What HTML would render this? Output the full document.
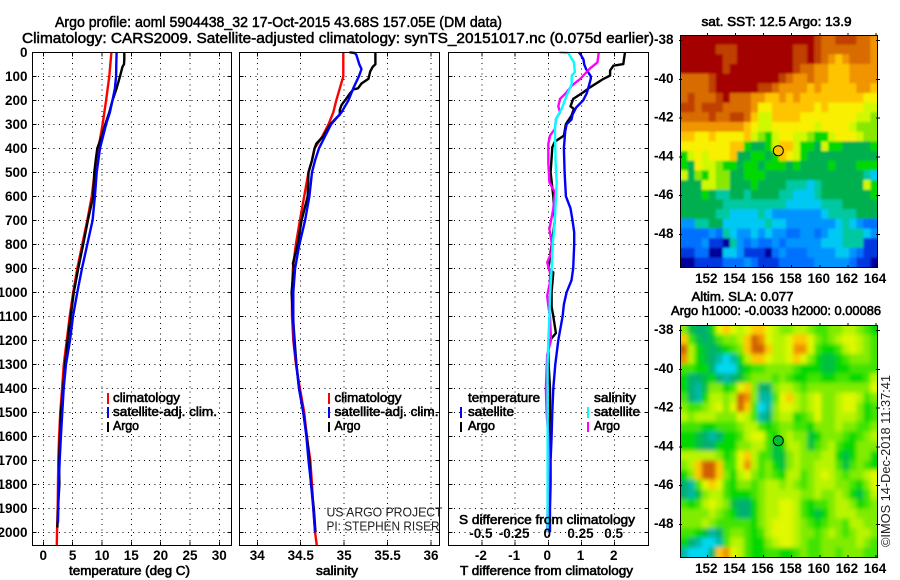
<!DOCTYPE html>
<html lang="en">
<head>
<meta charset="utf-8">
<title>Argo profile 5904438_32</title>
<style>
html,body{margin:0;padding:0;background:#fff;width:900px;height:580px;overflow:hidden}
svg{display:block}
text{font-family:"Liberation Sans",sans-serif;fill:#000}
.t{font-size:15px;stroke:#000;stroke-width:.5px}
.b{font-size:13.5px;font-weight:bold}
.l{font-size:13px;stroke:#000;stroke-width:.6px}
.thin{font-size:13px;fill:#222}
.frame{fill:none;stroke:#000;stroke-width:1;shape-rendering:crispEdges}
</style>
</head>
<body>
<svg id="chart" xmlns="http://www.w3.org/2000/svg" width="900" height="580" viewBox="0 0 900 580">
  <defs>
    <filter id="blurSst" x="-5%" y="-5%" width="110%" height="110%"><feGaussianBlur stdDeviation="1.1"/></filter>
    <filter id="blurSla" x="-5%" y="-5%" width="110%" height="110%"><feGaussianBlur stdDeviation="2.2"/></filter>
    <clipPath id="clipSst"><rect x="680.5" y="35.5" width="197" height="232"/></clipPath>
    <clipPath id="clipSla"><rect x="680.5" y="325.5" width="197" height="232"/></clipPath>
  </defs>
  <rect x="0" y="0" width="900" height="580" fill="#fff"/>
  <g id="grids"></g>
  <g id="maps"></g>
  <g id="series"></g>
  <rect class="frame" x="32.5" y="52.5" width="199" height="493"/>
  <rect class="frame" x="239.5" y="52.5" width="200" height="493"/>
  <rect class="frame" x="448.5" y="52.5" width="200" height="493"/>
  <g id="labels"></g>

  <text class="t" x="55" y="27" textLength="447" lengthAdjust="spacingAndGlyphs">Argo profile: aoml 5904438_32 17-Oct-2015 43.68S 157.05E (DM data)</text>
  <text class="t" x="22" y="43" textLength="632" lengthAdjust="spacingAndGlyphs">Climatology: CARS2009. Satellite-adjusted climatology: synTS_20151017.nc (0.075d earlier)</text>

  <text class="l" x="69" y="575" textLength="121" lengthAdjust="spacingAndGlyphs">temperature (deg C)</text>
  <text class="l" x="316" y="575" textLength="42" lengthAdjust="spacingAndGlyphs">salinity</text>
  <text class="l" x="460" y="575" textLength="173" lengthAdjust="spacingAndGlyphs">T difference from climatology</text>
  <text class="l" x="459" y="524" textLength="176" lengthAdjust="spacingAndGlyphs">S difference from climatology</text>

  <g>
    <rect x="107" y="393" width="2" height="11" fill="#f00"/>
    <rect x="107" y="407" width="2" height="11" fill="#00f"/>
    <rect x="107" y="422" width="2" height="10" fill="#000"/>
    <text class="l" x="113" y="402" textLength="67" lengthAdjust="spacingAndGlyphs">climatology</text>
    <text class="l" x="113" y="416" textLength="104" lengthAdjust="spacingAndGlyphs">satellite-adj. clim.</text>
    <text class="l" x="113" y="430" textLength="26" lengthAdjust="spacingAndGlyphs">Argo</text>
  </g>
  <g>
    <rect x="328" y="393" width="2" height="11" fill="#f00"/>
    <rect x="328" y="407" width="2" height="11" fill="#00f"/>
    <rect x="328" y="422" width="2" height="10" fill="#000"/>
    <text class="l" x="334.5" y="402" textLength="67" lengthAdjust="spacingAndGlyphs">climatology</text>
    <text class="l" x="334.5" y="416" textLength="104" lengthAdjust="spacingAndGlyphs">satellite-adj. clim.</text>
    <text class="l" x="334.5" y="430" textLength="26" lengthAdjust="spacingAndGlyphs">Argo</text>
  </g>
  <g>
    <text class="l" x="468" y="402" textLength="72" lengthAdjust="spacingAndGlyphs">temperature</text>
    <rect x="460" y="407" width="2" height="11" fill="#00f"/>
    <rect x="460" y="422" width="2" height="10" fill="#000"/>
    <text class="l" x="468" y="416" textLength="46" lengthAdjust="spacingAndGlyphs">satellite</text>
    <text class="l" x="468" y="430" textLength="27" lengthAdjust="spacingAndGlyphs">Argo</text>
    <text class="l" x="594" y="402" textLength="42" lengthAdjust="spacingAndGlyphs">salinity</text>
    <rect x="587" y="407" width="2" height="11" fill="#0ff"/>
    <rect x="587" y="422" width="2" height="10" fill="#f0f"/>
    <text class="l" x="594" y="416" textLength="46" lengthAdjust="spacingAndGlyphs">satellite</text>
    <text class="l" x="594" y="430" textLength="26" lengthAdjust="spacingAndGlyphs">Argo</text>
  </g>

  <text class="thin" x="326.5" y="516.5" textLength="116" lengthAdjust="spacingAndGlyphs">US ARGO PROJECT</text>
  <text class="thin" x="326.5" y="530.5" textLength="113" lengthAdjust="spacingAndGlyphs">PI: STEPHEN RISER</text>

  <text class="l" x="701.5" y="26" textLength="150" lengthAdjust="spacingAndGlyphs">sat. SST: 12.5 Argo: 13.9</text>
  <text class="l" x="691.5" y="301" textLength="102" lengthAdjust="spacingAndGlyphs">Altim. SLA: 0.077</text>
  <text class="l" x="671" y="315" textLength="210" lengthAdjust="spacingAndGlyphs">Argo h1000: -0.0033 h2000: 0.00086</text>
  <text class="thin" transform="translate(890 547) rotate(-90)" x="0" y="0" textLength="172" lengthAdjust="spacingAndGlyphs">©IMOS 14-Dec-2018 11:37:41</text>
</svg>

<script>
/* ---------- shared tick arrays ---------- */
const depthTicks = [0,100,200,300,400,500,600,700,800,900,1000,1100,1200,1300,1400,1500,1600,1700,1800,1900,2000];
const tempTicks = [0,5,10,15,20,25,30];
const salTicks = [34,34.5,35,35.5,36];
const salTickLabels = ['34','34.5','35','35.5','36'];
const tDiffTicks = [-2,-1,0,1,2];
const sDiffTicks = [-0.5,-0.25,0,0.25,0.5];
const sDiffTickLabels = ['-0.5','-0.25','0','0.25','0.5'];
const lonTicks = [152,154,156,158,160,162,164];
const latTicks = [-38,-40,-42,-44,-46,-48];

/* ---------- temperature profiles ---------- */
const tClimDepth = [0,100,200,300,400,500,600,700,800,900,1000,1100,1200,1300,1400,1500,1600,1700,1800,1900,2000,2054];
const tClimValues = [11.6,11.25,10.7,10.1,9.4,8.76,8.25,7.5,6.65,5.8,5.1,4.5,4.0,3.5,3.2,2.9,2.7,2.55,2.5,2.45,2.33,2.3];
const tSatDepth = [0,50,100,150,200,250,300,400,500,600,700,800,900,1000,1100,1200,1300,1400,1500,1600,1700,1800,1900,1960];
const tSatValues = [12.5,12.45,12.4,12.2,11.8,11.35,10.7,9.67,9.1,8.8,8.4,7.5,6.6,5.8,5.06,4.55,3.87,3.47,3.24,3.0,2.8,2.6,2.55,2.5];
const tArgoDepth = [0,30,50,60,100,150,200,250,300,350,400,450,500,600,700,800,900,1000,1100,1200,1300,1400,1500,1600,1700,1800,1900,1980];
const tArgoValues = [13.8,13.8,13.75,13.5,13.07,12.5,11.8,11.25,10.57,9.95,9.2,8.93,8.7,8.5,7.6,6.8,5.97,5.2,4.67,4.15,3.7,3.4,3.0,2.85,2.7,2.75,2.5,2.4];

/* ---------- salinity profiles ---------- */
const sClimDepth = [0,100,150,200,250,300,350,400,450,500,600,700,800,900,1000,1100,1200,1300,1400,1500,1600,1700,1800,1900,2000,2054];
const sClimValues = [34.99,34.99,34.95,34.91,34.875,34.82,34.75,34.66,34.63,34.59,34.54,34.49,34.445,34.41,34.40,34.40,34.415,34.445,34.49,34.54,34.57,34.61,34.63,34.645,34.665,34.685];
const sSatDepth = [0,3,10,50,70,100,150,200,250,300,350,400,450,500,600,700,800,900,1000,1100,1200,1300,1400,1500,1600,1700,1800,1900,2000];
const sSatValues = [35.06,35.12,35.14,35.175,35.2,35.17,35.105,35.05,34.97,34.85,34.78,34.71,34.665,34.63,34.6,34.55,34.485,34.435,34.415,34.415,34.42,34.45,34.48,34.53,34.565,34.59,34.62,34.645,34.665];
const sArgoDepth = [0,50,60,80,110,130,150,155,170,190,220,240,260,270,300,350,380,400,450,500,600,700,800,880,900,1000,1100,1200,1300,1400,1500,1600,1700,1800,1900,2000];
const sArgoValues = [35.36,35.36,35.33,35.3,35.28,35.2,35.16,35.105,35.07,35.03,34.97,34.95,34.95,34.92,34.84,34.76,34.68,34.66,34.63,34.59,34.58,34.51,34.465,34.41,34.42,34.395,34.41,34.43,34.45,34.48,34.53,34.57,34.60,34.62,34.65,34.67];

/* ---------- difference profiles ---------- */
const dtSatDepth = [0,10,30,50,70,100,110,130,170,200,230,260,280,300,330,400,500,600,650,700,750,800,900,950,1000,1050,1100,1200,1300,1400,1500,1600,1700,1800,1900,2000];
const dtSatValues = [0.92,0.975,1.06,1.08,1.14,1.28,1.28,1.24,1.16,1.05,0.84,0.73,0.70,0.55,0.51,0.47,0.49,0.53,0.67,0.73,0.78,0.78,0.75,0.70,0.55,0.47,0.43,0.30,0.21,0.15,0.12,0.10,0.07,0.07,0.05,0.05];
const dtArgoDepth = [0,28,49,56,76,97,111,146,167,194,225,236,264,299,347,372,396,458,500,600,700,800,875,900,917,1000,1060,1100,1170,1200,1225,1300,1400,1500,1600,1700,2000];
const dtArgoValues = [2.31,2.28,2.26,1.96,1.86,1.86,1.66,1.26,1.05,0.75,0.67,0.77,0.70,0.53,0.47,0.2,0.12,0.09,0.07,0.15,0.2,0.1,0.03,0,0.15,0.1,0.1,0.15,0.23,0.05,0,0.01,0.05,0.05,0.03,0.02,0.02];
const dsArgoDepth = [0,42,67,76,111,139,167,181,194,225,250,278,319,347,382,458,542,583,653,736,792,833,875,917,958,1014,1056,1100,1200,1260,1400,1500,1600,1700,1800,1900,2000];
const dsArgoValues = [0.38,0.37,0.314,0.30,0.24,0.176,0.138,0.113,0.088,0.075,0.088,0.058,0.05,0.013,0,0,0.008,0.05,0.038,0.008,0.025,0.025,-0.008,0.013,0.013,-0.008,0,0.013,0.02,-0.008,-0.018,-0.013,0,0.005,0,-0.005,-0.008];
const dsSatDepth = [0,3,42,83,97,132,181,236,278,319,458,542,694,806,903,1014,1100,1200,1300,2000];
const dsSatValues = [0.083,0.15,0.193,0.2,0.176,0.176,0.138,0.1,0.058,0.05,0.055,0.063,0.05,0.033,0.025,0.013,0.008,0,-0.005,-0.005];

/* ---------- map colour levels (0.5 degree cells, north to south) ---------- */
const sstLevels = [
[15,15,15,15,15,15,15,15,15,15,15,15,15,15,15,15,15,15,15,14,13,13,14,14,14,13,13,12],
[15,15,15,15,15,14,14,14,15,15,15,15,15,15,15,15,14,14,15,14,13,13,13,13,13,13,13,12],
[15,15,15,15,15,15,14,14,15,15,15,15,15,15,15,15,14,14,15,14,13,12,11,12,13,13,13,12],
[15,15,15,15,15,15,14,15,15,15,15,15,15,15,15,15,14,13,13,12,12,11,11,11,12,12,12,12],
[13,13,13,13,14,15,15,15,15,15,15,15,15,15,14,13,12,12,13,12,12,11,11,11,12,12,12,12],
[13,13,13,13,14,15,15,15,15,15,15,14,14,13,12,12,12,12,11,12,11,11,11,11,11,12,12,11],
[13,14,13,13,13,14,15,13,13,13,12,12,11,11,12,11,12,11,11,11,11,11,11,11,11,11,10,10],
[14,14,13,14,14,14,13,13,13,13,12,10,10,11,11,11,11,11,11,10,11,10,10,10,10,10,9,9],
[13,13,13,13,14,13,13,14,14,13,11,9,9,11,11,11,11,10,10,10,10,10,10,10,10,9,9,8],
[12,12,12,12,12,12,12,12,12,11,10,9,9,10,10,10,10,10,10,9,10,10,10,10,9,8,8,8],
[11,11,10,10,11,10,10,10,10,11,9,8,7,9,10,10,9,9,8,7,7,9,10,10,10,9,8,8],
[10,10,10,10,10,10,10,11,11,7,6,6,7,9,11,11,9,7,7,6,9,7,7,6,6,6,6,7],
[7,9,10,9,10,10,10,11,6,6,7,7,6,7,11,10,9,7,6,6,6,6,6,6,6,6,6,6],
[7,6,10,9,9,8,7,7,6,7,7,6,7,7,7,6,7,6,6,6,6,7,6,6,6,7,7,7],
[9,6,8,7,9,8,8,6,6,7,7,7,6,6,6,6,6,6,6,6,6,6,6,6,6,6,5,4],
[6,6,6,9,9,8,8,6,6,6,7,6,6,6,6,5,5,5,4,5,6,6,6,6,6,6,9,7],
[6,6,6,7,6,5,5,6,6,5,6,6,6,6,5,5,4,4,4,5,6,6,6,6,6,6,6,7],
[6,6,6,6,6,6,5,5,5,5,5,5,5,5,5,4,4,4,4,4,5,5,5,6,6,6,6,6],
[6,6,6,6,6,5,5,4,4,4,4,5,4,3,3,3,3,3,3,3,4,5,5,5,5,6,6,6],
[3,3,5,5,6,6,4,4,4,4,4,4,5,4,4,3,3,3,3,3,3,3,4,5,4,3,2,2],
[2,2,2,2,3,2,5,4,3,3,4,3,4,3,3,2,2,3,3,2,3,4,4,5,5,5,4,3],
[2,2,2,3,1,1,0,5,3,2,3,2,2,3,2,3,3,3,3,3,4,4,4,5,5,5,1,1],
[1,1,2,2,0,0,4,4,3,1,1,1,0,2,3,2,2,2,3,3,3,3,4,4,3,2,1,1],
[0,0,1,1,1,1,2,2,2,3,2,1,1,1,2,2,2,2,2,3,3,3,3,3,2,1,1,0]
];
const slaLevels = [
[6,3,2,2,4,8,9,8,7,8,9,9,8,7,6,6,7,7,6,5,5,6,6,7,7,6,5,4],
[9,5,3,2,3,5,6,6,7,9,11,10,8,7,7,8,9,9,8,6,5,6,7,8,8,7,6,5],
[11,7,4,3,2,3,4,5,6,9,11,11,9,7,7,8,10,10,8,5,4,4,5,7,8,7,6,5],
[10,7,4,3,2,1,0,1,4,7,9,9,8,7,7,8,9,8,6,4,3,3,4,5,6,6,6,5],
[5,5,4,4,2,0,0,0,3,4,5,5,6,6,6,6,5,4,4,4,3,3,4,4,5,5,5,5],
[4,2,2,3,4,2,1,2,3,5,6,6,6,5,6,5,4,4,5,5,4,4,5,5,4,4,5,7],
[4,2,1,3,6,6,4,5,8,9,6,2,2,6,7,7,6,5,6,6,6,6,6,6,6,6,6,8],
[5,2,1,4,7,7,6,7,11,10,6,1,1,5,8,9,7,6,7,8,6,6,7,8,8,7,5,6],
[6,5,5,6,7,8,6,8,11,9,5,0,1,6,8,8,7,6,7,8,6,6,7,8,8,6,4,5],
[7,6,7,7,7,6,6,6,8,7,5,1,2,6,7,7,4,5,6,8,6,6,7,7,7,6,4,5],
[5,5,5,4,4,5,5,5,6,7,7,5,4,5,6,6,5,5,4,6,6,6,7,6,6,5,5,6],
[4,4,3,2,1,2,4,4,5,7,8,8,5,4,6,7,6,6,3,4,6,6,6,5,4,5,6,7],
[4,4,3,2,2,4,4,4,6,6,7,7,5,3,4,7,7,6,3,5,6,7,5,4,4,6,6,6],
[7,7,7,7,7,6,4,5,8,9,7,5,5,3,3,6,7,6,6,6,7,7,4,3,4,6,6,4],
[6,7,9,11,11,9,5,5,8,10,7,5,6,4,3,6,7,6,6,7,7,7,5,3,5,6,5,4],
[4,6,9,11,11,9,6,4,7,8,6,5,6,5,4,7,7,5,6,7,8,7,6,5,6,6,7,8],
[2,1,5,8,9,8,5,4,6,6,5,6,7,7,6,7,6,5,6,7,7,7,6,6,5,4,6,8],
[2,1,3,6,7,7,5,4,4,4,5,6,7,7,7,7,7,6,6,7,6,6,7,6,4,3,5,7],
[5,4,5,7,8,7,6,3,2,2,4,6,7,7,8,8,7,5,4,5,5,6,7,7,6,4,5,6],
[6,6,6,6,7,6,5,4,2,2,4,6,7,7,8,8,7,5,4,3,4,6,7,7,7,6,6,6],
[6,6,6,7,6,5,5,5,5,5,4,6,7,8,8,8,7,6,5,4,5,6,6,5,7,7,6,6],
[5,5,4,3,1,2,5,6,6,5,4,5,7,8,8,8,7,6,6,5,6,7,6,5,6,7,7,6],
[4,2,1,0,0,1,5,7,7,5,4,4,6,7,8,8,7,6,5,5,6,6,6,6,6,7,6,5],
[1,0,0,0,2,9,10,8,7,5,4,4,5,5,4,4,5,6,5,5,6,6,5,6,6,6,5,5]
];
const sstColours = ['#00009c','#0038e0','#0070ff','#0094ff','#00c8f4','#00c8a0','#00b050','#00d800','#88e800','#d0f800','#f8f000','#ffc400','#f09400','#d86c00','#c04000','#a40000'];
const slaColours = ['#00d8f0','#00b8a8','#00b070','#00c040','#00d800','#40e400','#80ec00','#b8f400','#e0f800','#ffc800','#f09000','#d06000'];
const profileLat = -43.68;
const profileLon = 157.05;

/* ---------- axis functions ---------- */
const NS = 'http://www.w3.org/2000/svg';
function yDepth(d){ return 52.3 + d * 0.24; }
function xTemp(t){ return 43.3 + t * 5.867; }
function xSal(s){ return 257.3 + (s - 34) * 86.85; }
function xDT(t){ return 548.3 + t * 33.2; }
function xDS(s){ return 548.3 + s * 132.8; }
function xLon(lon){ return 707.3 + (lon - 152) * 14.06; }
function yLat(lat, top){ return top + 5.7 + (-38 - lat) * 19.36; }
function make(tag, attrs, parent){
  const el = document.createElementNS(NS, tag);
  for (const k in attrs) el.setAttribute(k, attrs[k]);
  parent.appendChild(el);
  return el;
}

const grids = document.getElementById('grids');
const labels = document.getElementById('labels');
const seriesGroup = document.getElementById('series');
const maps = document.getElementById('maps');
const panels = [
  {x0:32.5, x1:231.5, xf:xTemp, ticks:tempTicks},
  {x0:239.5, x1:439.5, xf:xSal, ticks:salTicks},
  {x0:448.5, x1:648.5, xf:xDT, ticks:tDiffTicks}
];
const dotted = {stroke:'#000','stroke-width':1,'stroke-dasharray':'1 4.3','shape-rendering':'crispEdges'};
const solid = {stroke:'#000','stroke-width':1,'shape-rendering':'crispEdges'};

/* grid lines with solid tick stubs at the frame */
panels.forEach(function(p){
  depthTicks.forEach(function(d){
    const line = make('line', Object.assign({x1:p.x0, x2:p.x1, y1:yDepth(d), y2:yDepth(d)}, dotted), grids);
    
    
    const stubL = make('line', Object.assign({x1:p.x0, x2:p.x0 + 4, y1:yDepth(d), y2:yDepth(d)}, solid), grids);
    
    
    const stubR = make('line', Object.assign({x1:p.x1 - 4, x2:p.x1, y1:yDepth(d), y2:yDepth(d)}, solid), grids);
    
    
  });
  p.ticks.forEach(function(v){
    const line = make('line', Object.assign({x1:p.xf(v), x2:p.xf(v), y1:52.5, y2:545.5}, dotted), grids);
    
    
    const stubT = make('line', Object.assign({x1:p.xf(v), x2:p.xf(v), y1:52.5, y2:56.5}, solid), grids);
    
    
    const stubB = make('line', Object.assign({x1:p.xf(v), x2:p.xf(v), y1:541.5, y2:545.5}, solid), grids);
    
    
  });
});

/* axis labels */
depthTicks.forEach(function(d){
  const t = make('text', {x:27.5, y:yDepth(d)+4.5, 'text-anchor':'end', 'class':'b'}, labels);
  t.textContent = String(d);
  
  
});
tempTicks.forEach(function(v){
  const t = make('text', {x:xTemp(v), y:560, 'text-anchor':'middle', 'class':'b'}, labels);
  t.textContent = String(v);
  
  
});
salTicks.forEach(function(v, i){
  const t = make('text', {x:xSal(v), y:560, 'text-anchor':'middle', 'class':'b'}, labels);
  t.textContent = salTickLabels[i];
  
  
});
tDiffTicks.forEach(function(v){
  const t = make('text', {x:xDT(v)-1, y:560, 'text-anchor':'middle', 'class':'b'}, labels);
  t.textContent = String(v);
  
  
});
sDiffTicks.forEach(function(v, i){
  const t = make('text', {x:xDS(v)-1, y:538, 'text-anchor':'middle', 'class':'b'}, labels);
  t.textContent = sDiffTickLabels[i];
  
  
});

/* profile lines */
function drawLine(depths, values, xf, colour, width){
  const pts = depths.map(function(d, i){ return xf(values[i]).toFixed(1) + ',' + yDepth(d).toFixed(1); }).join(' ');
  return make('polyline', {points:pts, fill:'none', stroke:colour, 'stroke-width':width, 'stroke-linejoin':'round'}, seriesGroup);
}
const lineTC = drawLine(tClimDepth, tClimValues, xTemp, '#f00', 2.4);


const lineTA = drawLine(tArgoDepth, tArgoValues, xTemp, '#000', 2.4);


const lineTS = drawLine(tSatDepth, tSatValues, xTemp, '#00f', 2.4);


const lineSC = drawLine(sClimDepth, sClimValues, xSal, '#f00', 2.4);


const lineSA = drawLine(sArgoDepth, sArgoValues, xSal, '#000', 2.4);


const lineSS = drawLine(sSatDepth, sSatValues, xSal, '#00f', 2.4);


const lineDTA = drawLine(dtArgoDepth, dtArgoValues, xDT, '#000', 2.4);


const lineDTS = drawLine(dtSatDepth, dtSatValues, xDT, '#00f', 2.4);


const lineDSA = drawLine(dsArgoDepth, dsArgoValues, xDS, '#f0f', 2.4);


const lineDSS = drawLine(dsSatDepth, dsSatValues, xDS, '#0ff', 2.4);



/* maps: edge cells are repeated outward so the smoothing filter has no white fringe */
function drawMap(levels, colours, top, markerColour, clipId, filterId){
  const lonStart = 150.1, latStart = -37.7, step = 0.5;
  const clipGroup = make('g', {'clip-path':'url(#' + clipId + ')'}, maps);
  
  
  const cells = make('g', {filter:'url(#' + filterId + ')'}, clipGroup);
  
  
  const rows = levels.length, cols = levels[0].length;
  for (let r = -2; r < rows + 2; r++) {
    for (let c = -2; c < cols + 2; c++) {
      const level = levels[Math.max(0, Math.min(rows - 1, r))][Math.max(0, Math.min(cols - 1, c))];
      const x0 = xLon(lonStart + c * step), x1 = xLon(lonStart + (c + 1) * step);
      const y0 = yLat(latStart - r * step, top), y1 = yLat(latStart - (r + 1) * step, top);
      const cell = make('rect', {x:x0.toFixed(2), y:y0.toFixed(2), width:(x1 - x0 + 0.4).toFixed(2), height:(y1 - y0 + 0.4).toFixed(2), fill:colours[level]}, cells);
      
      
    }
  }
  const frame = make('rect', {x:680.5, y:top + 0.5, width:197, height:232, 'class':'frame'}, maps);
  
  
  lonTicks.forEach(function(lon){
    const tickTop = make('line', {x1:xLon(lon), x2:xLon(lon), y1:top - 2, y2:top + 1, stroke:'#000', 'shape-rendering':'crispEdges'}, maps);
    
    
    const tickBottom = make('line', {x1:xLon(lon), x2:xLon(lon), y1:top + 230, y2:top + 233, stroke:'#000', 'shape-rendering':'crispEdges'}, maps);
    
    
    const t = make('text', {x:xLon(lon) - 1, y:top + 248, 'text-anchor':'middle', 'class':'b'}, maps);
    t.textContent = String(lon);
    
    
  });
  latTicks.forEach(function(lat){
    const y = yLat(lat, top);
    const tickLeft = make('line', {x1:679, x2:682, y1:y, y2:y, stroke:'#000', 'shape-rendering':'crispEdges'}, maps);
    
    
    const tickRight = make('line', {x1:876, x2:880, y1:y, y2:y, stroke:'#000', 'shape-rendering':'crispEdges'}, maps);
    
    
    const t = make('text', {x:673.5, y:y + 3.5, 'text-anchor':'end', 'class':'b'}, maps);
    t.textContent = String(lat);
    
    
  });
  const marker = make('circle', {cx:xLon(profileLon).toFixed(1), cy:yLat(profileLat, top).toFixed(1), r:5, fill:markerColour, stroke:'#000', 'stroke-width':1}, maps);
  
  
}
drawMap(sstLevels, sstColours, 35, '#ffc400', 'clipSst', 'blurSst');
drawMap(slaLevels, slaColours, 325, '#00c030', 'clipSla', 'blurSla');
</script>
</body>
</html>
